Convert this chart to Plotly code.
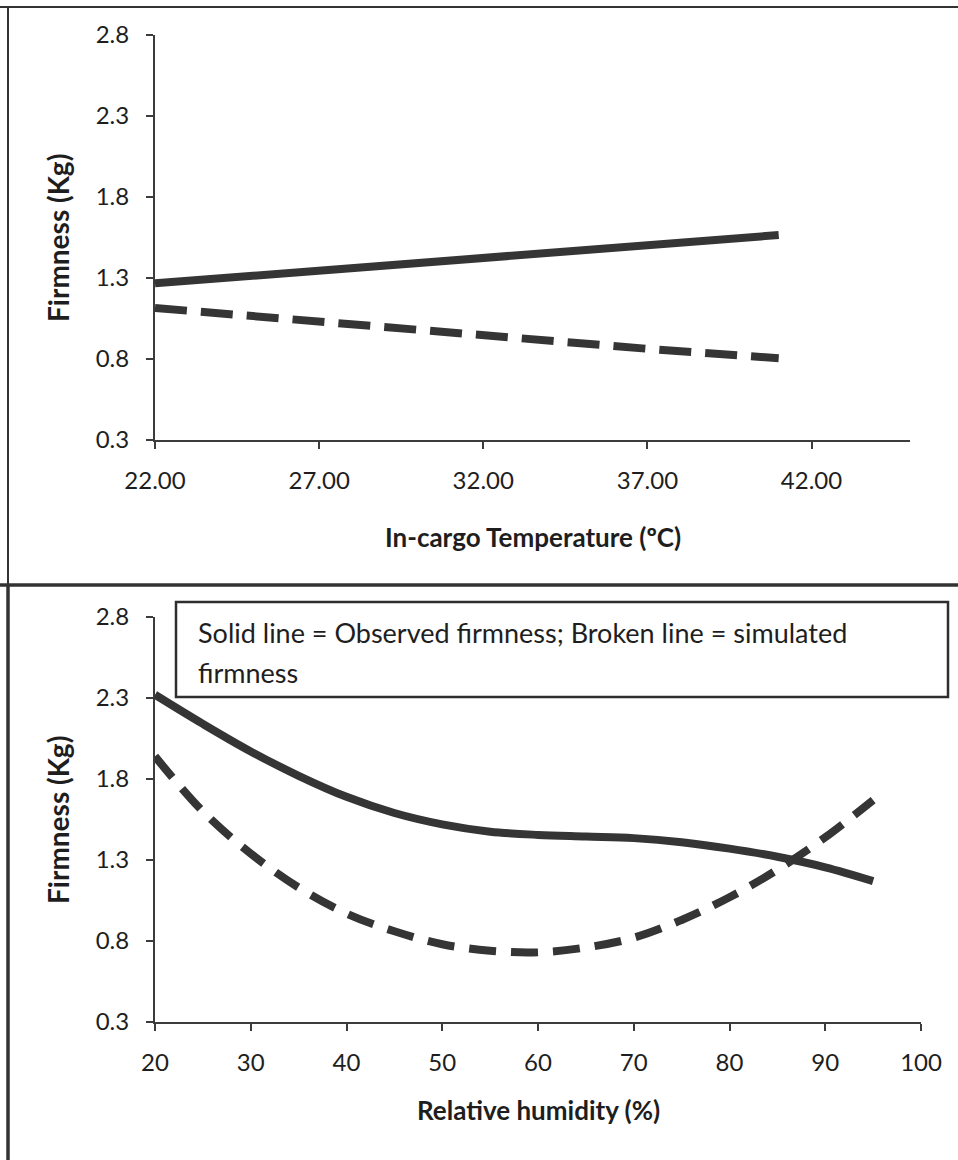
import plotly.graph_objects as go

# ---- data ----
temp_x_obs = [22.0, 32.0, 41.0]
temp_y_obs = [1.267, 1.43, 1.565]
temp_x_sim = [22.0, 27.0, 32.0, 37.0, 41.0]
temp_y_sim = [1.115, 1.03, 0.945, 0.863, 0.805]

rh_x = [20, 25, 30, 35, 40, 45, 50, 55, 60, 65, 70, 75, 80, 85, 90, 95]
rh_y_obs = [2.32, 2.14, 1.97, 1.82, 1.69, 1.59, 1.52, 1.475, 1.455, 1.445, 1.435, 1.41, 1.37, 1.32, 1.255, 1.17]
rh_y_sim = [1.94, 1.60, 1.34, 1.13, 0.97, 0.86, 0.78, 0.74, 0.73, 0.76, 0.82, 0.93, 1.07, 1.24, 1.44, 1.67]

y_ticks = [0.3, 0.8, 1.3, 1.8, 2.3, 2.8]
temp_ticks = [22.0, 27.0, 32.0, 37.0, 42.0]
rh_ticks = [20, 30, 40, 50, 60, 70, 80, 90, 100]

W, H = 958, 1160
LINE = "#353535"
AX = "#3c3c3c"
TXT = "#1e1e1e"
FONT = "Lato"

def px(x):
    return x / W

def py(y):
    return 1 - y / H

fig = go.Figure()

fig.add_trace(go.Scatter(x=temp_x_obs, y=temp_y_obs, mode="lines", xaxis="x", yaxis="y",
                         line=dict(color=LINE, width=8), showlegend=False))
fig.add_trace(go.Scatter(x=temp_x_sim, y=temp_y_sim, mode="lines", xaxis="x", yaxis="y",
                         line=dict(color=LINE, width=8, dash="32px,14px"), showlegend=False))
fig.add_trace(go.Scatter(x=rh_x, y=rh_y_obs, mode="lines", xaxis="x2", yaxis="y2",
                         line=dict(color=LINE, width=8, shape="spline"), showlegend=False))
fig.add_trace(go.Scatter(x=rh_x, y=rh_y_sim, mode="lines", xaxis="x2", yaxis="y2",
                         line=dict(color=LINE, width=8, dash="27px,15px", shape="spline"), showlegend=False))

tickfont = dict(family=FONT, size=24, color=TXT)
common_y = dict(range=[0.3, 2.8], tickvals=y_ticks, tickformat=".1f", showgrid=False, zeroline=False,
                showline=True, linecolor=AX, linewidth=2, ticks="outside", ticklen=7, tickwidth=2,
                tickcolor=AX, tickfont=tickfont, ticklabelstandoff=12, automargin=False)
common_x = dict(showgrid=False, zeroline=False, showline=True, linecolor=AX, linewidth=2,
                ticks="outside", ticklen=7, tickwidth=2, tickcolor=AX, tickfont=tickfont,
                ticklabelstandoff=11, automargin=False)

fig.update_layout(
    width=W, height=H, autosize=False,
    margin=dict(l=0, r=0, t=0, b=0, pad=0, autoexpand=False),
    showlegend=False,
    paper_bgcolor="white", plot_bgcolor="rgba(0,0,0,0)",
    xaxis=dict(domain=[px(155), px(910)], range=[22, 45], tickvals=temp_ticks, tickformat=".2f",
               anchor="y", **common_x),
    yaxis=dict(domain=[py(440), py(35)], anchor="x", **common_y),
    xaxis2=dict(domain=[px(155), px(921)], range=[20, 100], tickvals=rh_ticks, anchor="y2", **common_x),
    yaxis2=dict(domain=[py(1022), py(617)], anchor="x2", **common_y),
)

xtitlefont = dict(family=FONT, size=26, color=TXT, weight="bold")
ytitlefont = dict(family=FONT, size=28, color=TXT, weight="bold")
ann = [
    dict(text="In-cargo Temperature (ºC)", x=px(533), y=py(537), font=xtitlefont),
    dict(text="Relative humidity (%)", x=px(538), y=py(1110), font=xtitlefont),
    dict(text="Firmness (Kg)", x=px(58), y=py(238), textangle=-90, font=ytitlefont),
    dict(text="Firmness (Kg)", x=px(58), y=py(820), textangle=-90, font=ytitlefont),
]
for a in ann:
    fig.add_annotation(xref="paper", yref="paper", xanchor="center", yanchor="middle",
                       showarrow=False, **a)

legfont = dict(family=FONT, size=27, color=TXT)
fig.add_annotation(xref="paper", yref="paper", x=px(196), y=py(632), xanchor="left", yanchor="middle",
                   showarrow=False, font=legfont,
                   text="Solid line = Observed firmness; Broken line = simulated")
fig.add_annotation(xref="paper", yref="paper", x=px(196), y=py(672), xanchor="left", yanchor="middle",
                   showarrow=False, font=legfont, text="firmness")

shapes = [
    # legend box
    dict(type="rect", xref="paper", yref="paper", x0=px(176), x1=px(948), y0=py(697), y1=py(602),
         line=dict(color="#2e2e2e", width=2.5)),
    # panel borders
    dict(type="line", xref="paper", yref="paper", x0=0, x1=1, y0=py(7), y1=py(7),
         line=dict(color="#333333", width=2)),
    dict(type="line", xref="paper", yref="paper", x0=px(8), x1=px(8), y0=py(7), y1=py(585),
         line=dict(color="#333333", width=2)),
    dict(type="line", xref="paper", yref="paper", x0=0, x1=1, y0=py(585), y1=py(585),
         line=dict(color="#333333", width=3.5)),
    dict(type="line", xref="paper", yref="paper", x0=px(8), x1=px(8), y0=py(585), y1=0,
         line=dict(color="#333333", width=3.5)),
]
fig.update_layout(shapes=shapes)

fig.write_html("out.html")
